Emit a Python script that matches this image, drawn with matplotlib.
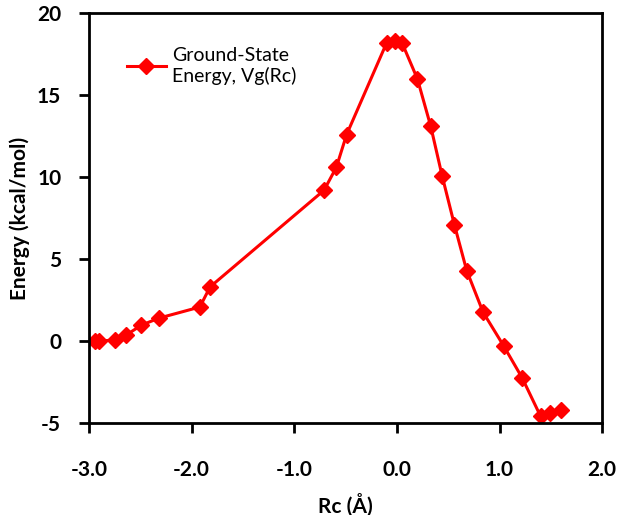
import matplotlib
matplotlib.use("Agg")
import matplotlib.pyplot as plt

rc = [-2.94, -2.90, -2.75, -2.64, -2.49, -2.32, -1.92, -1.82, -0.71, -0.59, -0.49,
      -0.10, -0.02, 0.05, 0.20, 0.33, 0.44, 0.56, 0.68, 0.84, 1.04, 1.22, 1.40, 1.49, 1.60]
energy = [0.0, 0.0, 0.05, 0.35, 0.96, 1.39, 2.07, 3.3, 9.2, 10.6, 12.6,
          18.2, 18.3, 18.2, 16.0, 13.1, 10.1, 7.1, 4.3, 1.75, -0.3, -2.25, -4.6, -4.4, -4.2]
xticks = [-3.0, -2.0, -1.0, 0.0, 1.0, 2.0]
yticks = [-5, 0, 5, 10, 15, 20]

plt.rcParams['font.family'] = ['Lato', 'DejaVu Sans']
plt.rcParams['axes.unicode_minus'] = False
fig = plt.figure(figsize=(6.24, 5.15), dpi=100)
ax = fig.add_axes([0.1426, 0.179, 0.8224, 0.795])
ax.plot(rc, energy, color='#ff0000', lw=2.2, marker='D', ms=8.5, mec='#ff0000',
        mfc='#ff0000', label='Ground-State\nEnergy, Vg(Rc)')
ax.set_xlim(-3.0, 2.0)
ax.set_ylim(-5, 20)
ax.set_xticks(xticks)
ax.set_xticklabels([f"{t:.1f}" for t in xticks])
ax.set_yticks(yticks)
for s in ax.spines.values():
    s.set_linewidth(2)
ax.tick_params(direction='out', length=7, width=2, labelsize=15)
ax.tick_params(axis='x', pad=20)
ax.tick_params(axis='y', pad=13)
for lab in ax.get_xticklabels() + ax.get_yticklabels():
    lab.set_fontweight('bold')
ax.set_xlabel('Rc (Å)', fontsize=15, fontweight='bold', labelpad=9)
ax.set_ylabel('Energy (kcal/mol)', fontsize=15, fontweight='bold', labelpad=5)
leg = ax.legend(loc='upper left', bbox_to_anchor=(0.04, 0.96), frameon=False,
                fontsize=14, handlelength=2.0, handletextpad=0.3, markerscale=0.9)
fig.savefig('out.png', dpi=100)
